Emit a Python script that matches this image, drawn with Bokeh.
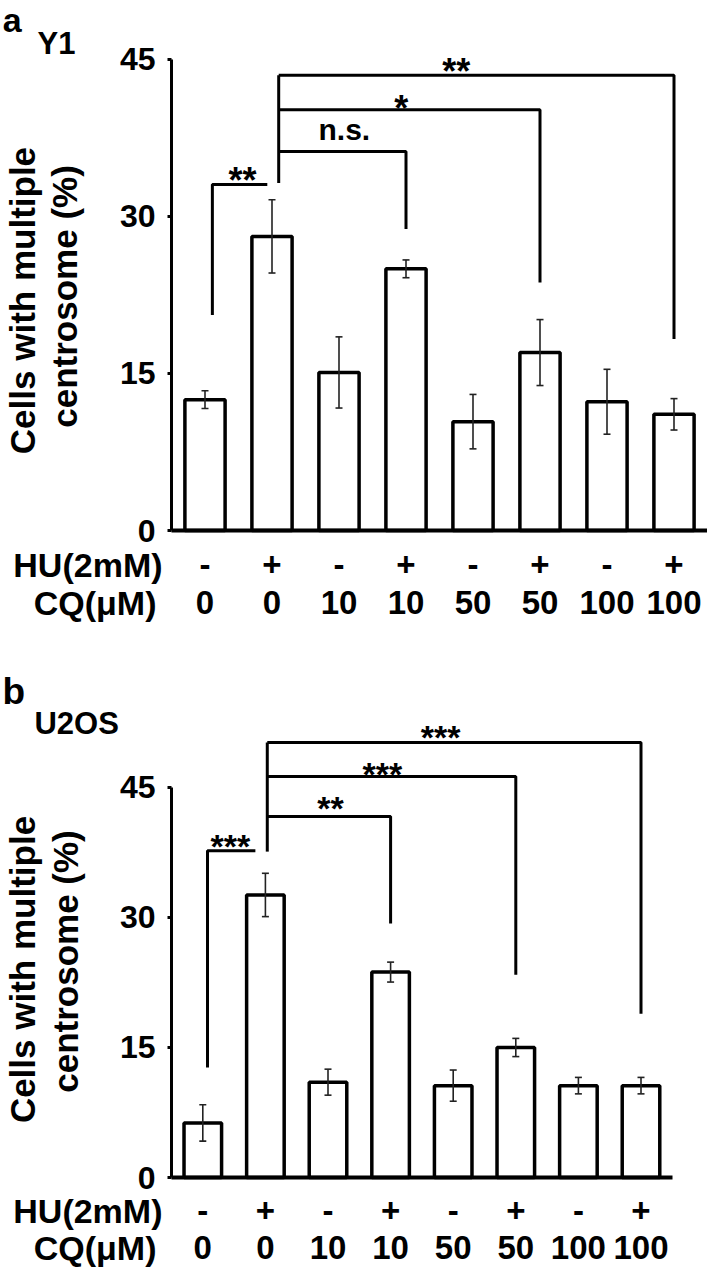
import numpy as np
from bokeh.plotting import figure
from bokeh.layouts import column
from bokeh.models import (ColumnDataSource, FixedTicker, LinearAxis,
                          Whisker, TeeHead, Range1d)
from bokeh.embed import file_html
from bokeh.resources import INLINE
from bokeh.core.properties import value

# ---------------- data ----------------
hu_labels = ["-", "+", "-", "+", "-", "+", "-", "+"]
cq_labels = ["0", "0", "10", "10", "50", "50", "100", "100"]
row_titles = ["HU(2mM)", "CQ(\u03bcM)"]
y_ticks = [0, 15, 30, 45]
y_label_lines = ["Cells with multiple", "centrosome (%)"]

# panel a : Y1
y1_mean = [12.5, 28.1, 15.1, 25.0, 10.4, 17.0, 12.3, 11.1]
y1_err = [0.85, 3.5, 3.4, 0.85, 2.6, 3.15, 3.1, 1.5]
y1_pair = [0, 1]
y1_pair_top = 33.05
y1_pair_leg = 20.6
y1_group_ref = 1
y1_group_targets = [3, 5, 7]
y1_group_tops = [36.2, 40.2, 43.5]
y1_group_legs = [28.8, 23.7, 18.3]
y1_group_base = 33.2
y1_sig_text = ["**", "n.s.", "*", "**"]
y1_sig_x = [1.06, 2.58, 3.43, 4.25]
y1_sig_y = [33.41, 38.33, 40.3, 43.82]

# panel b : U2OS
u2_mean = [6.3, 32.6, 11.0, 23.7, 10.6, 15.0, 10.6, 10.6]
u2_err = [2.1, 2.5, 1.5, 1.15, 1.8, 1.05, 0.95, 0.95]
u2_pair = [0, 1]
u2_pair_top = 37.7
u2_pair_leg = 12.7
u2_group_ref = 1
u2_group_targets = [3, 5, 7]
u2_group_tops = [41.65, 46.27, 50.19]
u2_group_legs = [29.3, 23.4, 18.9]
u2_group_base = 37.6
u2_sig_text = ["***", "**", "***", "***"]
u2_sig_x = [0.94, 2.54, 3.37, 4.3]
u2_sig_y = [38.26, 42.65, 46.57, 50.84]

FONT = "Liberation Sans"
FIG_W = 707
ORIGIN = 1  # page pixel of the figure's left/top edge


def make_panel(letter, name, means, errs, pair, pair_top, pair_leg,
               g_ref, g_targets, g_tops, g_legs, g_base,
               sig_text, sig_x, sig_y, sig_size,
               fig_h, fig_top_page, axis_x_page, cat_px, zero_page, unit_px,
               pair_dl, pair_dr, g_dx,
               hu_std, cq_std, row_pos, ylab_pos, letter_pos, name_pos,
               letter_size):
    n = len(means)
    xs = [i + 0.5 for i in range(n)]
    u_min = (ORIGIN - axis_x_page) / cat_px
    u_max = u_min + FIG_W / cat_px
    v_max = (zero_page - fig_top_page) / unit_px
    v_min = v_max - fig_h / unit_px

    p = figure(width=FIG_W, height=fig_h, x_range=Range1d(u_min, u_max),
               y_range=Range1d(v_min, v_max), output_backend="svg",
               toolbar_location=None, x_axis_location=None,
               y_axis_location=None, min_border=0)
    p.outline_line_color = None
    p.grid.visible = False

    src = ColumnDataSource(dict(
        x=xs, top=means,
        upper=[m + e for m, e in zip(means, errs)],
        lower=[m - e for m, e in zip(means, errs)]))
    p.vbar(x="x", top="top", width=0.6, bottom=0, source=src,
           fill_color="white", line_color="black", line_width=3.5)
    w = Whisker(base="x", upper="upper", lower="lower", source=src,
                line_color="#222222", line_width=1.6, level="annotation",
                upper_head=TeeHead(size=7, line_width=1.6, line_color="#222222"),
                lower_head=TeeHead(size=7, line_width=1.6, line_color="#222222"))
    p.add_layout(w)

    # significance brackets
    bx, by = [], []
    l = xs[pair[0]] + pair_dl
    r = xs[pair[1]] + pair_dr
    bx.append([l, l, r]); by.append([pair_leg, pair_top, pair_top])
    g = xs[g_ref] + g_dx
    bx.append([g, g]); by.append([g_base, max(g_tops)])
    for t, top, leg in zip(g_targets, g_tops, g_legs):
        bx.append([g, xs[t], xs[t]]); by.append([top, top, leg])
    p.multi_line(xs=bx, ys=by, line_color="black", line_width=3)

    sizes = [("30px" if s == "n.s." else sig_size) for s in sig_text]
    tsrc = ColumnDataSource(dict(x=sig_x, y=sig_y, t=sig_text, s=sizes))
    p.text(x="x", y="y", text="t", source=tsrc, text_font=value(FONT),
           text_font_style="bold", text_font_size="s", text_align="center",
           text_baseline="middle", text_color="black")

    # y axis (drawn at x = 0, takes no side panel)
    ya = LinearAxis(ticker=FixedTicker(ticks=y_ticks), fixed_location=0,
                    bounds=(0, 45))
    ya.axis_line_width = 3
    ya.axis_line_color = "black"
    ya.major_tick_line_width = 3
    ya.major_tick_line_color = "black"
    ya.major_tick_out = 4
    ya.major_tick_in = 0
    ya.minor_tick_line_color = None
    ya.major_label_text_font = FONT
    ya.major_label_text_font_style = "bold"
    ya.major_label_text_font_size = "32px"
    ya.major_label_text_color = "black"
    ya.major_label_standoff = 12
    p.add_layout(ya, "left")

    # x axis rows
    for labels, std, line in ((hu_labels, hu_std, True), (cq_labels, cq_std, False)):
        xa = LinearAxis(ticker=FixedTicker(ticks=xs), fixed_location=0,
                        bounds=(0, n))
        xa.major_label_overrides = {float(x): s for x, s in zip(xs, labels)}
        xa.axis_line_width = 4
        xa.axis_line_color = "black" if line else None
        xa.major_tick_line_color = None
        xa.minor_tick_line_color = None
        xa.major_label_text_font = FONT
        xa.major_label_text_font_style = "bold"
        xa.major_label_text_font_size = "33px"
        xa.major_label_text_color = "black"
        xa.major_label_standoff = std
        p.add_layout(xa, "below")

    # free texts inside the frame
    rsrc = ColumnDataSource(dict(x=row_pos[0], y=row_pos[1], t=row_titles))
    p.text(x="x", y="y", text="t", source=rsrc, text_font=value(FONT),
           text_font_style="bold", text_font_size="34px", text_align="right",
           text_baseline="middle", text_color="black")
    lsrc = ColumnDataSource(dict(x=ylab_pos[0], y=ylab_pos[1], t=y_label_lines))
    p.text(x="x", y="y", text="t", source=lsrc, angle=np.pi / 2,
           text_font=value(FONT), text_font_style="bold",
           text_font_size="35px", text_align="center",
           text_baseline="middle", text_color="black")
    hsrc = ColumnDataSource(dict(x=[letter_pos[0], name_pos[0]],
                                 y=[letter_pos[1], name_pos[1]],
                                 t=[letter, name], s=[letter_size, "31px"]))
    p.text(x="x", y="y", text="t", source=hsrc, text_font=value(FONT),
           text_font_style="bold", text_font_size="s", text_align="left",
           text_baseline="middle", text_color="black")
    return p


pa = make_panel("a", "Y1", y1_mean, y1_err, y1_pair, y1_pair_top, y1_pair_leg,
                y1_group_ref, y1_group_targets, y1_group_tops, y1_group_legs,
                y1_group_base, y1_sig_text, y1_sig_x, y1_sig_y, "36px",
                fig_h=636, fig_top_page=ORIGIN, axis_x_page=172, cat_px=67,
                zero_page=531, unit_px=10.467,
                pair_dl=0.11, pair_dr=-0.07, g_dx=0.10,
                hu_std=16, cq_std=54,
                row_pos=([-0.134, -0.224], [-3.34, -6.97]),
                ylab_pos=([-2.224, -1.59], [21.97, 22.36]),
                letter_pos=(-2.52, 48.82), name_pos=(-2.0, 46.53),
                letter_size="34px")

pb = make_panel("b", "U2OS", u2_mean, u2_err, u2_pair, u2_pair_top, u2_pair_leg,
                u2_group_ref, u2_group_targets, u2_group_tops, u2_group_legs,
                u2_group_base, u2_sig_text, u2_sig_x, u2_sig_y, "34px",
                fig_h=632, fig_top_page=ORIGIN + 636, axis_x_page=172,
                cat_px=62.6, zero_page=1178, unit_px=8.667,
                pair_dl=0.075, pair_dr=-0.16, g_dx=0.03,
                hu_std=15, cq_std=52,
                row_pos=([-0.144, -0.24], [-3.92, -8.19]),
                ylab_pos=([-2.380, -1.701], [24.0, 24.92]),
                letter_pos=(-2.70, 56.13), name_pos=(-2.19, 52.38),
                letter_size="37px")

layout = column(pa, pb)
open("out.html", "w").write(file_html(layout, INLINE))
